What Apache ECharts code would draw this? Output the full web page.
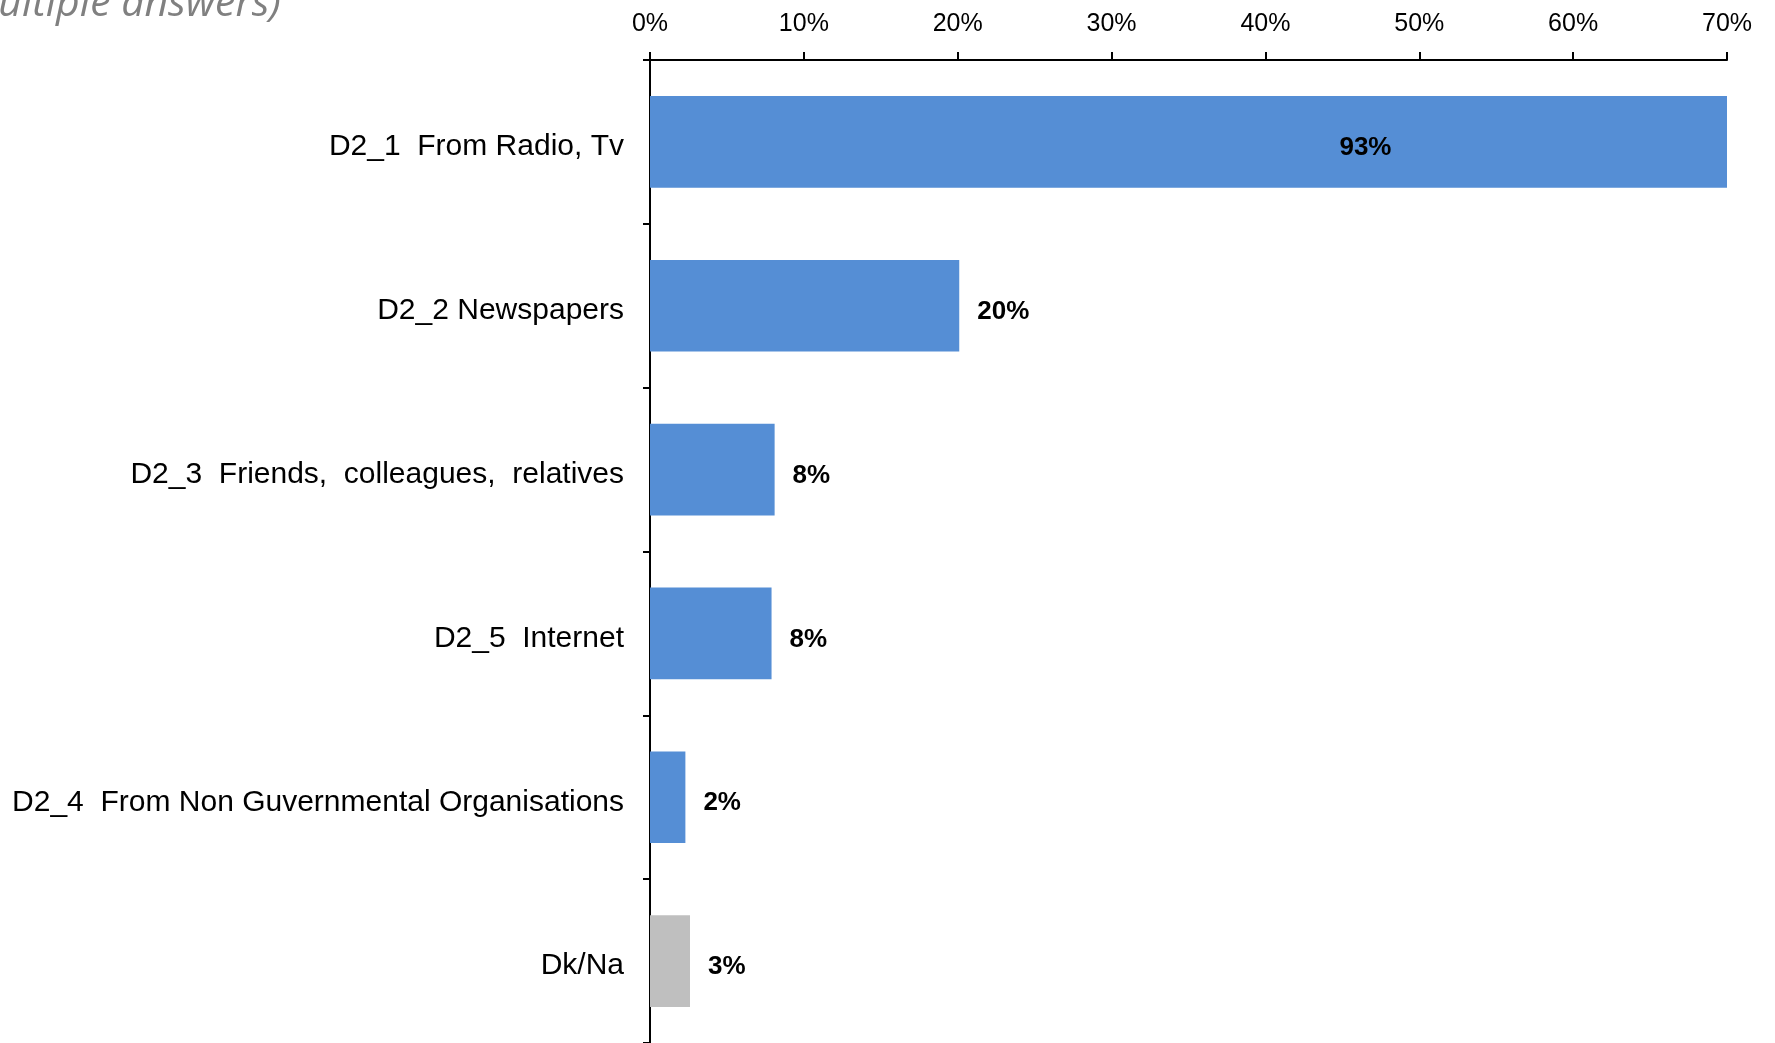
<!DOCTYPE html>
<html>
<head>
<meta charset="utf-8">
<script src="https://cdn.jsdelivr.net/npm/echarts@6/dist/echarts.min.js"></script>
<style>
html,body{margin:0;padding:0;background:#fff;}
#chart{width:1775px;height:1043px;}
</style>
</head>
<body>
<div id="chart"></div>
<script>
const titleText = "(multiple answers)";
const categories = [
  "D2_1  From Radio, Tv",
  "D2_2 Newspapers",
  "D2_3  Friends,  colleagues,  relatives",
  "D2_5  Internet",
  "D2_4  From Non Guvernmental Organisations",
  "Dk/Na"
];
const values = [93, 20.1, 8.1, 7.9, 2.3, 2.6];
const axisTicks = [0, 10, 20, 30, 40, 50, 60, 70];

const AXIS_MAX = axisTicks[axisTicks.length - 1];
const chart = echarts.init(document.getElementById('chart'), null, {renderer: 'canvas'});

const data = values.map((v, i) => {
  const item = {
    value: v,
    itemStyle: { color: categories[i] === 'Dk/Na' ? '#BFBFBF' : '#558ED5' }
  };
  if (v > AXIS_MAX) {
    item.label = {
      position: [((v / 2) / AXIS_MAX * 100).toFixed(2) + '%', '50%'],
      align: 'center',
      verticalAlign: 'middle'
    };
  }
  return item;
});

chart.setOption({
  animation: false,
  graphic: [{
    type: 'text',
    style: {
      x: 281,
      y: 4,
      text: titleText,
      align: 'right',
      verticalAlign: 'middle',
      font: 'italic 41px "Open Sans", sans-serif',
      fill: '#808080'
    }
  }],
  grid: { left: 650, top: 60, width: 1077, height: 990, containLabel: false },
  xAxis: {
    type: 'value',
    position: 'top',
    min: 0,
    max: AXIS_MAX,
    interval: 10,
    axisLine: { show: true, lineStyle: { color: '#000', width: 2 } },
    axisTick: { show: true, length: 8, lineStyle: { color: '#000', width: 2 } },
    axisLabel: {
      formatter: v => v + '%',
      fontFamily: 'Liberation Sans, Arial, sans-serif',
      fontSize: 25,
      color: '#000',
      margin: 23
    },
    splitLine: { show: false }
  },
  yAxis: {
    type: 'category',
    inverse: true,
    data: categories,
    axisLine: { show: true, lineStyle: { color: '#000', width: 2 } },
    axisTick: { show: true, length: 7, lineStyle: { color: '#000', width: 2 } },
    axisLabel: {
      margin: 26,
      formatter: v => '{c|' + v + '}',
      rich: {
        c: {
          fontFamily: 'Liberation Sans, Arial, sans-serif',
          fontSize: 30,
          color: '#000',
          lineHeight: 30,
          padding: [10, 0, 0, 0]
        }
      }
    }
  },
  series: [{
    type: 'bar',
    data: data,
    barCategoryGap: '44%',
    label: {
      show: true,
      position: 'right',
      distance: 18,
      offset: [0, 6],
      formatter: p => Math.round(p.value) + '%',
      fontFamily: 'Liberation Sans, Arial, sans-serif',
      fontWeight: 'bold',
      fontSize: 26,
      color: '#000'
    }
  }]
});
</script>
</body>
</html>
